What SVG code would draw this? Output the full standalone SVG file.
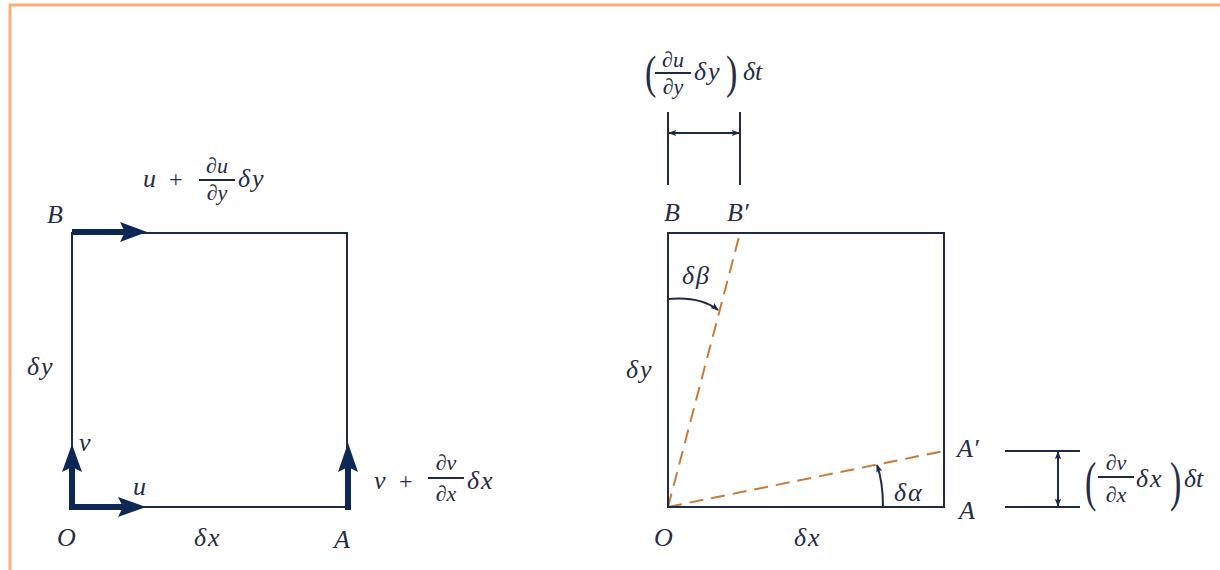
<svg xmlns="http://www.w3.org/2000/svg" width="1220" height="570" viewBox="0 0 1220 570">
<style>
.ln{stroke:#1e2a48;stroke-width:2;fill:none}
.thk{stroke:#0e2856;stroke-width:6;fill:none}
.hd{fill:#0e2856}
.ds{stroke:#c9793a;stroke-width:2;fill:none;stroke-dasharray:14 8}
.t{font-style:italic;font-size:26px;fill:#262c44}
.d{letter-spacing:2px}
.f{font-style:italic;font-size:22px;fill:#262c44}
.u{font-size:24px;fill:#262c44}
.p{font-size:34px;fill:#262c44}
</style>
<defs>
<marker id="ah" viewBox="0 0 10 10" refX="9" refY="5" markerWidth="8" markerHeight="8" orient="auto-start-reverse" markerUnits="userSpaceOnUse">
<path d="M0,1 L10,5 L0,9 L2,5 Z" fill="#1e2a48"/>
</marker>
</defs>
<path d="M10,570 L10,5 L1220,5" stroke="#f8b07c" stroke-width="3" fill="none"/>

<g id="left-element">
<rect x="72" y="233" width="275" height="274" class="ln"/>
</g>
<g id="connectors">
<line x1="72" y1="232" x2="126" y2="232" class="thk"/>
<polygon points="147,232 120,222 125,232 120,242" class="hd"/>
<line x1="72" y1="510" x2="72" y2="466" class="thk"/>
<polygon points="72,444 62,472 72,467 82,472" class="hd"/>
<line x1="69" y1="507" x2="124" y2="507" class="thk"/>
<polygon points="146,507 118,497 123,507 118,517" class="hd"/>
<line x1="348" y1="510" x2="348" y2="466" class="thk"/>
<polygon points="348,443 338,472 348,467 358,472" class="hd"/>
<line x1="668" y1="507" x2="740" y2="233" class="ds"/>
<line x1="668" y1="507" x2="944" y2="451" class="ds"/>
<path d="M668,299 Q700,296 718,310" class="ln" stroke-width="1.5" marker-end="url(#ah)"/>
<path d="M883,507 Q883,482 877,465" class="ln" stroke-width="1.5" marker-end="url(#ah)"/>
<line x1="668" y1="112" x2="668" y2="185" class="ln"/>
<line x1="740" y1="112" x2="740" y2="185" class="ln"/>
<line x1="669" y1="133" x2="739" y2="133" class="ln" stroke-width="1.5" marker-start="url(#ah)" marker-end="url(#ah)"/>
<line x1="1005" y1="451" x2="1080" y2="451" class="ln"/>
<line x1="1005" y1="507" x2="1080" y2="507" class="ln"/>
<line x1="1058" y1="452" x2="1058" y2="506" class="ln" stroke-width="1.5" marker-start="url(#ah)" marker-end="url(#ah)"/>
</g>
<g id="right-element">
<rect x="668" y="233" width="276" height="274" class="ln"/>
</g>

<g id="left-labels" font-family="Liberation Serif, DejaVu Serif, serif">
<text x="47" y="223" class="t">B</text>
<text x="143" y="187" class="t">u</text>
<text x="169" y="187" class="u">+</text>
<text x="217" y="173" class="f" text-anchor="middle">∂u</text>
<line x1="199" y1="180" x2="235" y2="180" class="ln" stroke-width="1.2"/>
<text x="217" y="200" class="f" text-anchor="middle">∂y</text>
<text x="238" y="187" class="t d">δy</text>
<text x="27" y="375" class="t d">δy</text>
<text x="79" y="451" class="t">v</text>
<text x="133" y="495" class="t">u</text>
<text x="57" y="546" class="t">O</text>
<text x="194" y="546" class="t d">δx</text>
<text x="334" y="548" class="t">A</text>
<text x="374" y="489" class="t">v</text>
<text x="399" y="489" class="u">+</text>
<text x="446" y="470" class="f" text-anchor="middle">∂v</text>
<line x1="428" y1="478" x2="464" y2="478" class="ln" stroke-width="1.2"/>
<text x="446" y="501" class="f" text-anchor="middle">∂x</text>
<text x="467" y="489" class="t d">δx</text>
</g>

<g id="right-labels" font-family="Liberation Serif, DejaVu Serif, serif">
<text x="645" y="0" class="p" transform="translate(0,88) scale(1,1.35)">(</text>
<text x="673" y="67" class="f" text-anchor="middle">∂u</text>
<line x1="655" y1="73" x2="691" y2="73" class="ln" stroke-width="1.2"/>
<text x="673" y="94" class="f" text-anchor="middle">∂y</text>
<text x="694" y="80" class="t d">δy</text>
<text x="726" y="0" class="p" transform="translate(0,88) scale(1,1.35)">)</text>
<text x="743" y="80" class="t">δt</text>
<text x="664" y="221" class="t">B</text>
<text x="727" y="221" class="t">B′</text>
<text x="682" y="284" class="t d">δβ</text>
<text x="626" y="378" class="t d">δy</text>
<text x="654" y="546" class="t">O</text>
<text x="794" y="546" class="t d">δx</text>
<text x="894" y="501" class="t d">δα</text>
<text x="957" y="457" class="t">A′</text>
<text x="959" y="519" class="t">A</text>
<text x="1085" y="0" class="p" transform="translate(0,500) scale(1,1.6)">(</text>
<text x="1116" y="470" class="f" text-anchor="middle">∂v</text>
<line x1="1098" y1="477" x2="1134" y2="477" class="ln" stroke-width="1.2"/>
<text x="1116" y="502" class="f" text-anchor="middle">∂x</text>
<text x="1136" y="487" class="t d">δx</text>
<text x="1170" y="0" class="p" transform="translate(0,500) scale(1,1.6)">)</text>
<text x="1184" y="487" class="t">δt</text>
</g>
</svg>
